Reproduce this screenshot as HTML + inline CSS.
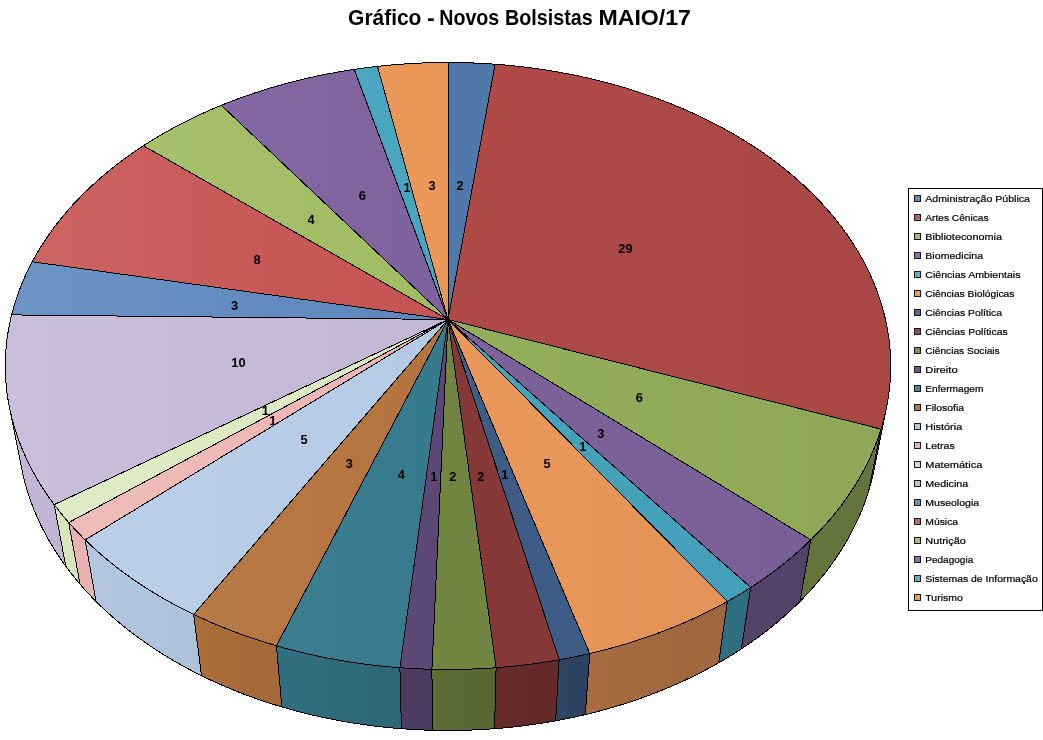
<!DOCTYPE html>
<html lang="pt"><head><meta charset="utf-8"><title>Gráfico - Novos Bolsistas MAIO/17</title>
<style>
html,body{margin:0;padding:0;background:#fff;}
body{width:1043px;height:740px;position:relative;overflow:hidden;font-family:"Liberation Sans",sans-serif;}
svg{display:block}
</style></head><body>
<svg width="1043" height="740" viewBox="0 0 1043 740" style="position:absolute;left:0;top:0">
<defs>
<linearGradient id="lt" gradientUnits="userSpaceOnUse" x1="5" y1="0" x2="890" y2="0">
<stop offset="0" stop-color="#fff" stop-opacity="0.11"/>
<stop offset="0.28" stop-color="#fff" stop-opacity="0.035"/>
<stop offset="0.5" stop-color="#fff" stop-opacity="0"/>
<stop offset="0.5" stop-color="#000" stop-opacity="0"/>
<stop offset="1" stop-color="#000" stop-opacity="0.04"/>
</linearGradient>
<linearGradient id="sd" gradientUnits="userSpaceOnUse" x1="0" y1="0" x2="900" y2="0">
<stop offset="0.0100" stop-color="#000" stop-opacity="0.000"/>
<stop offset="0.2178" stop-color="#000" stop-opacity="0.045"/>
<stop offset="0.3500" stop-color="#000" stop-opacity="0.110"/>
<stop offset="0.4478" stop-color="#000" stop-opacity="0.160"/>
<stop offset="0.5478" stop-color="#000" stop-opacity="0.230"/>
<stop offset="0.6456" stop-color="#000" stop-opacity="0.280"/>
<stop offset="0.7778" stop-color="#000" stop-opacity="0.320"/>
<stop offset="0.9344" stop-color="#000" stop-opacity="0.330"/>
<stop offset="0.9856" stop-color="#000" stop-opacity="0.330"/>
</linearGradient>
</defs>
<g stroke="#000" stroke-width="1" stroke-linejoin="round" shape-rendering="crispEdges">
<path d="M886.59 407.24 L885.67 411.62 L884.65 416.01 L883.53 420.39 L882.32 424.77 L881.01 429.15 L868.73 490.73 L870.02 486.35 L871.23 481.96 L872.34 477.58 L873.36 473.18 L874.28 468.79 Z" fill="#B04A47"/>
<path d="M881.01 429.15 L879.31 434.41 L877.47 439.65 L875.48 444.89 L873.36 450.12 L871.09 455.33 L868.68 460.53 L866.13 465.71 L863.44 470.86 L860.60 476.00 L857.62 481.12 L854.50 486.20 L851.23 491.27 L847.83 496.30 L844.28 501.30 L840.59 506.26 L836.76 511.19 L832.78 516.08 L828.67 520.94 L824.42 525.75 L820.02 530.51 L815.49 535.23 L810.82 539.90 L799.99 601.41 L804.54 596.75 L808.96 592.04 L813.25 587.29 L817.40 582.48 L821.42 577.64 L825.30 572.76 L829.04 567.83 L832.65 562.87 L836.12 557.88 L839.46 552.85 L842.65 547.79 L845.71 542.71 L848.63 537.60 L851.42 532.46 L854.06 527.30 L856.57 522.12 L858.94 516.93 L861.17 511.71 L863.26 506.49 L865.22 501.25 L867.04 495.99 L868.73 490.73 Z" fill="#93AE59"/>
<path d="M810.82 539.90 L806.02 544.52 L801.08 549.09 L796.00 553.60 L790.79 558.05 L785.45 562.45 L779.98 566.79 L774.37 571.06 L768.64 575.26 L762.78 579.40 L756.80 583.47 L750.70 587.47 L741.46 648.85 L747.40 644.86 L753.22 640.81 L758.91 636.68 L764.49 632.49 L769.94 628.23 L775.27 623.91 L780.47 619.52 L785.54 615.08 L790.49 610.58 L795.30 606.02 L799.99 601.41 Z" fill="#7C629B"/>
<path d="M750.70 587.47 L744.99 591.07 L739.19 594.61 L733.29 598.08 L727.29 601.48 L718.72 662.81 L724.54 659.42 L730.28 655.96 L735.92 652.43 L741.46 648.85 Z" fill="#46A3BD"/>
<path d="M727.29 601.48 L720.51 605.19 L713.61 608.80 L706.60 612.33 L699.48 615.78 L692.25 619.12 L684.92 622.38 L677.48 625.54 L669.95 628.60 L662.31 631.57 L654.58 634.43 L646.76 637.19 L638.86 639.85 L630.86 642.40 L622.79 644.84 L614.64 647.18 L606.41 649.40 L598.11 651.52 L589.75 653.52 L585.30 714.61 L593.40 712.62 L601.45 710.51 L609.42 708.30 L617.32 705.98 L625.15 703.54 L632.90 701.00 L640.57 698.36 L648.15 695.61 L655.65 692.76 L663.05 689.81 L670.37 686.77 L677.58 683.62 L684.70 680.38 L691.72 677.04 L698.63 673.62 L705.43 670.10 L712.13 666.50 L718.72 662.81 Z" fill="#E9975A"/>
<path d="M589.75 653.52 L582.16 655.23 L574.53 656.84 L566.85 658.36 L559.13 659.78 L555.63 720.84 L563.11 719.42 L570.55 717.91 L577.95 716.31 L585.30 714.61 Z" fill="#3E5D86"/>
<path d="M559.13 659.78 L551.36 661.11 L543.56 662.35 L535.72 663.48 L527.85 664.52 L519.95 665.46 L512.02 666.31 L504.07 667.06 L496.10 667.70 L494.58 728.71 L502.30 728.07 L510.00 727.33 L517.68 726.49 L525.33 725.55 L532.96 724.52 L540.55 723.39 L548.11 722.16 L555.63 720.84 Z" fill="#863837"/>
<path d="M496.10 667.70 L488.11 668.25 L480.11 668.70 L472.09 669.05 L464.07 669.30 L456.03 669.45 L448.00 669.50 L439.97 669.45 L431.93 669.30 L432.44 730.30 L440.22 730.45 L448.00 730.50 L455.78 730.45 L463.56 730.30 L471.33 730.05 L479.09 729.71 L486.84 729.26 L494.58 728.71 Z" fill="#6F8540"/>
<path d="M431.93 669.30 L423.91 669.05 L415.89 668.70 L407.89 668.25 L399.90 667.70 L401.42 728.71 L409.16 729.26 L416.91 729.71 L424.67 730.05 L432.44 730.30 Z" fill="#5B4876"/>
<path d="M399.90 667.70 L391.40 667.01 L382.92 666.20 L374.47 665.28 L366.05 664.25 L357.66 663.11 L349.32 661.86 L341.01 660.50 L332.75 659.03 L324.54 657.46 L316.38 655.78 L308.27 653.99 L300.22 652.09 L292.24 650.09 L284.32 647.99 L276.46 645.79 L281.83 706.92 L289.44 709.11 L297.12 711.20 L304.86 713.19 L312.66 715.07 L320.51 716.85 L328.42 718.53 L336.38 720.09 L344.38 721.55 L352.42 722.91 L360.51 724.15 L368.63 725.28 L376.79 726.31 L384.97 727.22 L393.18 728.02 L401.42 728.71 Z" fill="#367A8D"/>
<path d="M276.46 645.79 L268.50 643.43 L260.62 640.97 L252.82 638.41 L245.10 635.75 L237.47 632.98 L229.93 630.12 L222.48 627.17 L215.12 624.11 L207.87 620.97 L200.71 617.73 L193.66 614.41 L201.51 675.68 L208.35 679.00 L215.30 682.22 L222.34 685.35 L229.48 688.38 L236.70 691.33 L244.02 694.18 L251.42 696.93 L258.91 699.58 L266.47 702.13 L274.11 704.57 L281.83 706.92 Z" fill="#B4733D"/>
<path d="M193.66 614.41 L186.58 610.93 L179.62 607.37 L172.77 603.71 L166.04 599.98 L159.42 596.16 L152.93 592.25 L146.56 588.27 L140.32 584.22 L134.20 580.08 L128.22 575.88 L122.36 571.61 L116.64 567.26 L111.05 562.85 L105.60 558.38 L100.29 553.85 L95.11 549.26 L90.07 544.60 L85.18 539.90 L96.01 601.41 L100.78 606.11 L105.69 610.75 L110.73 615.33 L115.91 619.85 L121.22 624.31 L126.66 628.71 L132.23 633.04 L137.92 637.30 L143.74 641.49 L149.69 645.61 L155.76 649.65 L161.95 653.62 L168.26 657.50 L174.68 661.31 L181.22 665.03 L187.87 668.67 L194.64 672.22 L201.51 675.68 Z" fill="#B5CAE5"/>
<path d="M85.18 539.90 L80.89 535.62 L76.72 531.30 L72.67 526.94 L68.73 522.54 L79.97 584.09 L83.81 588.48 L87.77 592.83 L91.83 597.14 L96.01 601.41 Z" fill="#EDB5B3"/>
<path d="M68.73 522.54 L64.91 518.11 L61.21 513.64 L57.63 509.14 L54.17 504.61 L65.74 566.18 L69.13 570.71 L72.63 575.20 L76.24 579.66 L79.97 584.09 Z" fill="#DCE9BF"/>
<path d="M54.17 504.61 L50.56 499.68 L47.08 494.71 L43.75 489.72 L40.56 484.70 L37.51 479.65 L34.60 474.57 L31.82 469.47 L29.19 464.36 L26.70 459.22 L24.35 454.07 L22.13 448.90 L20.06 443.72 L18.13 438.53 L16.33 433.32 L14.67 428.11 L13.15 422.90 L11.77 417.68 L10.52 412.46 L9.41 407.24 L21.72 468.79 L22.83 474.02 L24.07 479.25 L25.45 484.48 L26.96 489.70 L28.60 494.91 L30.38 500.12 L32.29 505.31 L34.33 510.49 L36.51 515.66 L38.82 520.82 L41.27 525.95 L43.86 531.07 L46.58 536.17 L49.43 541.24 L52.42 546.29 L55.55 551.31 L58.81 556.30 L62.21 561.26 L65.74 566.18 Z" fill="#C4B7D6"/>
</g>
<path d="M886.59 407.24 L885.44 412.62 L884.15 418.01 L882.71 423.40 L881.13 428.78 L879.39 434.15 L877.52 439.52 L875.49 444.87 L873.32 450.22 L870.99 455.54 L868.52 460.86 L865.90 466.15 L863.13 471.42 L860.22 476.67 L857.15 481.90 L853.93 487.10 L850.57 492.27 L847.06 497.40 L843.39 502.51 L839.58 507.58 L835.63 512.61 L831.52 517.59 L827.27 522.54 L822.87 527.44 L818.33 532.30 L813.64 537.11 L808.81 541.86 L803.83 546.56 L798.72 551.20 L793.46 555.79 L788.07 560.31 L782.54 564.78 L776.87 569.17 L771.06 573.50 L765.13 577.76 L759.06 581.95 L752.86 586.07 L746.54 590.10 L740.09 594.06 L733.52 597.94 L726.82 601.74 L720.01 605.45 L713.08 609.08 L706.03 612.62 L698.88 616.06 L691.61 619.42 L684.24 622.67 L676.76 625.84 L669.19 628.90 L661.52 631.87 L653.75 634.73 L645.89 637.49 L637.94 640.15 L629.91 642.69 L621.79 645.14 L613.60 647.47 L605.33 649.69 L596.99 651.80 L588.58 653.79 L580.11 655.67 L571.58 657.43 L562.99 659.08 L554.35 660.61 L545.66 662.02 L536.93 663.31 L528.15 664.48 L519.34 665.53 L510.50 666.46 L501.62 667.27 L492.72 667.95 L483.80 668.51 L474.87 668.94 L465.92 669.25 L456.96 669.44 L448.00 669.50 L439.04 669.44 L430.08 669.25 L421.13 668.94 L412.20 668.51 L403.28 667.95 L394.38 667.27 L385.50 666.46 L376.66 665.53 L367.85 664.48 L359.07 663.31 L350.34 662.02 L341.65 660.61 L333.01 659.08 L324.42 657.43 L315.89 655.67 L307.42 653.79 L299.01 651.80 L290.67 649.69 L282.40 647.47 L274.21 645.14 L266.09 642.69 L258.06 640.15 L250.11 637.49 L242.25 634.73 L234.48 631.87 L226.81 628.90 L219.24 625.84 L211.76 622.67 L204.39 619.42 L197.12 616.06 L189.97 612.62 L182.92 609.08 L175.99 605.45 L169.18 601.74 L162.48 597.94 L155.91 594.06 L149.46 590.10 L143.14 586.07 L136.94 581.95 L130.87 577.76 L124.94 573.50 L119.13 569.17 L113.46 564.78 L107.93 560.31 L102.54 555.79 L97.28 551.20 L92.17 546.56 L87.19 541.86 L82.36 537.11 L77.67 532.30 L73.13 527.44 L68.73 522.54 L64.48 517.59 L60.37 512.61 L56.42 507.58 L52.61 502.51 L48.94 497.40 L45.43 492.27 L42.07 487.10 L38.85 481.90 L35.78 476.67 L32.87 471.42 L30.10 466.15 L27.48 460.86 L25.01 455.54 L22.68 450.22 L20.51 444.87 L18.48 439.52 L16.61 434.15 L14.87 428.78 L13.29 423.40 L11.85 418.01 L10.56 412.62 L9.41 407.24 L21.72 468.79 L22.87 474.19 L24.16 479.58 L25.59 484.97 L27.16 490.36 L28.87 495.74 L30.73 501.11 L32.73 506.47 L34.87 511.81 L37.16 517.14 L39.59 522.45 L42.16 527.75 L44.88 533.02 L47.74 538.27 L50.75 543.49 L53.90 548.69 L57.19 553.85 L60.63 558.98 L64.21 564.08 L67.94 569.14 L71.81 574.17 L75.82 579.15 L79.97 584.09 L84.26 588.98 L88.69 593.83 L93.27 598.62 L97.98 603.37 L102.82 608.06 L107.81 612.69 L112.93 617.26 L118.18 621.78 L123.57 626.23 L129.08 630.61 L134.73 634.93 L140.50 639.17 L146.40 643.35 L152.43 647.45 L158.58 651.47 L164.84 655.42 L171.23 659.28 L177.74 663.07 L184.35 666.76 L191.08 670.38 L197.92 673.90 L204.87 677.33 L211.92 680.67 L219.08 683.91 L226.33 687.06 L233.68 690.11 L241.12 693.06 L248.66 695.91 L256.28 698.66 L263.99 701.30 L271.78 703.84 L279.64 706.27 L287.59 708.59 L295.60 710.80 L303.68 712.89 L311.83 714.88 L320.04 716.75 L328.30 718.50 L336.62 720.14 L345.00 721.66 L353.41 723.06 L361.87 724.35 L370.37 725.51 L378.91 726.56 L387.48 727.48 L396.07 728.28 L404.69 728.96 L413.33 729.51 L421.98 729.94 L430.65 730.25 L439.32 730.44 L448.00 730.50 L456.68 730.44 L465.35 730.25 L474.02 729.94 L482.67 729.51 L491.31 728.96 L499.93 728.28 L508.52 727.48 L517.09 726.56 L525.63 725.51 L534.13 724.35 L542.59 723.06 L551.00 721.66 L559.38 720.14 L567.70 718.50 L575.96 716.75 L584.17 714.88 L592.32 712.89 L600.40 710.80 L608.41 708.59 L616.36 706.27 L624.22 703.84 L632.01 701.30 L639.72 698.66 L647.34 695.91 L654.88 693.06 L662.32 690.11 L669.67 687.06 L676.92 683.91 L684.08 680.67 L691.13 677.33 L698.08 673.90 L704.92 670.38 L711.65 666.76 L718.26 663.07 L724.77 659.28 L731.16 655.42 L737.42 651.47 L743.57 647.45 L749.60 643.35 L755.50 639.17 L761.27 634.93 L766.92 630.61 L772.43 626.23 L777.82 621.78 L783.07 617.26 L788.19 612.69 L793.18 608.06 L798.02 603.37 L802.73 598.62 L807.31 593.83 L811.74 588.98 L816.03 584.09 L820.18 579.15 L824.19 574.17 L828.06 569.14 L831.79 564.08 L835.37 558.98 L838.81 553.85 L842.10 548.69 L845.25 543.49 L848.26 538.27 L851.12 533.02 L853.84 527.75 L856.41 522.45 L858.84 517.14 L861.13 511.81 L863.27 506.47 L865.27 501.11 L867.13 495.74 L868.84 490.36 L870.41 484.97 L871.84 479.58 L873.13 474.19 L874.28 468.79 Z" fill="url(#sd)" stroke="none" shape-rendering="crispEdges"/>
<g stroke="none" shape-rendering="crispEdges">
<path d="M448.00 319.50 L448.00 62.50 L453.90 62.53 L459.80 62.61 L465.70 62.74 L471.59 62.93 L477.48 63.17 L483.37 63.47 L489.25 63.82 L495.13 64.22 Z" fill="#5079AB"/>
<path d="M448.00 319.50 L495.13 64.22 L501.67 64.74 L508.21 65.32 L514.73 65.97 L521.24 66.68 L527.74 67.46 L534.23 68.31 L540.70 69.23 L547.15 70.21 L553.58 71.26 L560.00 72.37 L566.39 73.55 L572.76 74.80 L579.11 76.12 L585.43 77.50 L591.73 78.94 L598.00 80.45 L604.25 82.03 L610.46 83.68 L616.64 85.38 L622.79 87.16 L628.91 89.00 L635.00 90.90 L641.04 92.88 L647.05 94.91 L653.03 97.01 L658.96 99.17 L664.85 101.40 L670.70 103.70 L676.50 106.05 L682.26 108.48 L687.98 110.96 L693.64 113.51 L699.26 116.12 L704.82 118.79 L710.34 121.53 L715.80 124.33 L721.20 127.19 L726.55 130.11 L731.84 133.09 L737.08 136.14 L742.25 139.24 L747.36 142.41 L752.41 145.64 L757.39 148.92 L762.30 152.27 L767.15 155.67 L771.93 159.13 L776.64 162.65 L781.28 166.23 L785.84 169.87 L790.33 173.56 L794.74 177.30 L799.07 181.11 L803.32 184.96 L807.49 188.88 L811.58 192.84 L815.58 196.86 L819.50 200.94 L823.33 205.06 L827.07 209.24 L830.72 213.46 L834.28 217.74 L837.75 222.06 L841.12 226.44 L844.39 230.86 L847.56 235.33 L850.64 239.84 L853.61 244.40 L856.48 249.00 L859.25 253.65 L861.91 258.34 L864.46 263.07 L866.91 267.84 L869.24 272.65 L871.46 277.50 L873.57 282.39 L875.56 287.31 L877.44 292.27 L879.20 297.27 L880.84 302.29 L882.35 307.35 L883.75 312.44 L885.02 317.55 L886.17 322.70 L887.19 327.87 L888.09 333.06 L888.85 338.28 L889.48 343.53 L889.99 348.79 L890.36 354.07 L890.59 359.37 L890.70 364.69 L890.66 370.02 L890.49 375.36 L890.18 380.72 L889.73 386.08 L889.14 391.46 L888.41 396.84 L887.54 402.22 L886.52 407.61 L885.36 413.00 L884.06 418.39 L882.61 423.77 L881.01 429.15 Z" fill="#B04A47"/>
<path d="M448.00 319.50 L881.01 429.15 L879.31 434.41 L877.47 439.65 L875.48 444.89 L873.36 450.12 L871.09 455.33 L868.68 460.53 L866.13 465.71 L863.44 470.86 L860.60 476.00 L857.62 481.12 L854.50 486.20 L851.23 491.27 L847.83 496.30 L844.28 501.30 L840.59 506.26 L836.76 511.19 L832.78 516.08 L828.67 520.94 L824.42 525.75 L820.02 530.51 L815.49 535.23 L810.82 539.90 Z" fill="#93AE59"/>
<path d="M448.00 319.50 L810.82 539.90 L806.02 544.52 L801.08 549.09 L796.00 553.60 L790.79 558.05 L785.45 562.45 L779.98 566.79 L774.37 571.06 L768.64 575.26 L762.78 579.40 L756.80 583.47 L750.70 587.47 Z" fill="#7C629B"/>
<path d="M448.00 319.50 L750.70 587.47 L744.99 591.07 L739.19 594.61 L733.29 598.08 L727.29 601.48 Z" fill="#46A3BD"/>
<path d="M448.00 319.50 L727.29 601.48 L720.51 605.19 L713.61 608.80 L706.60 612.33 L699.48 615.78 L692.25 619.12 L684.92 622.38 L677.48 625.54 L669.95 628.60 L662.31 631.57 L654.58 634.43 L646.76 637.19 L638.86 639.85 L630.86 642.40 L622.79 644.84 L614.64 647.18 L606.41 649.40 L598.11 651.52 L589.75 653.52 Z" fill="#E9975A"/>
<path d="M448.00 319.50 L589.75 653.52 L582.16 655.23 L574.53 656.84 L566.85 658.36 L559.13 659.78 Z" fill="#3E5D86"/>
<path d="M448.00 319.50 L559.13 659.78 L551.36 661.11 L543.56 662.35 L535.72 663.48 L527.85 664.52 L519.95 665.46 L512.02 666.31 L504.07 667.06 L496.10 667.70 Z" fill="#863837"/>
<path d="M448.00 319.50 L496.10 667.70 L488.11 668.25 L480.11 668.70 L472.09 669.05 L464.07 669.30 L456.03 669.45 L448.00 669.50 L439.97 669.45 L431.93 669.30 Z" fill="#6F8540"/>
<path d="M448.00 319.50 L431.93 669.30 L423.91 669.05 L415.89 668.70 L407.89 668.25 L399.90 667.70 Z" fill="#5B4876"/>
<path d="M448.00 319.50 L399.90 667.70 L391.40 667.01 L382.92 666.20 L374.47 665.28 L366.05 664.25 L357.66 663.11 L349.32 661.86 L341.01 660.50 L332.75 659.03 L324.54 657.46 L316.38 655.78 L308.27 653.99 L300.22 652.09 L292.24 650.09 L284.32 647.99 L276.46 645.79 Z" fill="#367A8D"/>
<path d="M448.00 319.50 L276.46 645.79 L268.50 643.43 L260.62 640.97 L252.82 638.41 L245.10 635.75 L237.47 632.98 L229.93 630.12 L222.48 627.17 L215.12 624.11 L207.87 620.97 L200.71 617.73 L193.66 614.41 Z" fill="#B4733D"/>
<path d="M448.00 319.50 L193.66 614.41 L186.58 610.93 L179.62 607.37 L172.77 603.71 L166.04 599.98 L159.42 596.16 L152.93 592.25 L146.56 588.27 L140.32 584.22 L134.20 580.08 L128.22 575.88 L122.36 571.61 L116.64 567.26 L111.05 562.85 L105.60 558.38 L100.29 553.85 L95.11 549.26 L90.07 544.60 L85.18 539.90 Z" fill="#B5CAE5"/>
<path d="M448.00 319.50 L85.18 539.90 L80.89 535.62 L76.72 531.30 L72.67 526.94 L68.73 522.54 Z" fill="#EDB5B3"/>
<path d="M448.00 319.50 L68.73 522.54 L64.91 518.11 L61.21 513.64 L57.63 509.14 L54.17 504.61 Z" fill="#DCE9BF"/>
<path d="M448.00 319.50 L54.17 504.61 L50.46 499.54 L46.89 494.44 L43.48 489.30 L40.21 484.13 L37.09 478.94 L34.12 473.72 L31.30 468.48 L28.62 463.21 L26.10 457.93 L23.72 452.63 L21.48 447.31 L19.40 441.98 L17.46 436.64 L15.67 431.29 L14.02 425.94 L12.52 420.57 L11.16 415.21 L9.94 409.84 L8.87 404.47 L7.94 399.11 L7.15 393.75 L6.51 388.39 L6.00 383.04 L5.63 377.70 L5.40 372.37 L5.30 367.05 L5.34 361.75 L5.52 356.46 L5.83 351.19 L6.27 345.94 L6.84 340.71 L7.54 335.50 L8.37 330.31 L9.33 325.15 L10.41 320.01 L11.62 314.90 Z" fill="#C4B7D6"/>
<path d="M448.00 319.50 L11.62 314.90 L12.93 309.91 L14.35 304.95 L15.89 300.02 L17.54 295.12 L19.31 290.25 L21.19 285.41 L23.18 280.61 L25.28 275.84 L27.49 271.11 L29.81 266.42 L32.23 261.76 Z" fill="#5C87BE"/>
<path d="M448.00 319.50 L32.23 261.76 L34.78 257.09 L37.44 252.46 L40.21 247.88 L43.07 243.33 L46.04 238.83 L49.10 234.38 L52.26 229.97 L55.52 225.60 L58.87 221.28 L62.31 217.01 L65.85 212.79 L69.47 208.62 L73.19 204.49 L76.99 200.42 L80.87 196.40 L84.85 192.43 L88.90 188.51 L93.03 184.64 L97.24 180.83 L101.53 177.07 L105.90 173.37 L110.34 169.72 L114.86 166.12 L119.45 162.59 L124.11 159.10 L128.84 155.68 L133.63 152.31 L138.49 149.00 L143.42 145.75 Z" fill="#C65351"/>
<path d="M448.00 319.50 L143.42 145.75 L148.24 142.66 L153.12 139.63 L158.06 136.65 L163.06 133.73 L168.10 130.86 L173.20 128.05 L178.36 125.29 L183.56 122.60 L188.81 119.95 L194.11 117.37 L199.46 114.84 L204.85 112.38 L210.29 109.96 L215.77 107.61 L221.29 105.32 Z" fill="#A0BC61"/>
<path d="M448.00 319.50 L221.29 105.32 L226.98 103.03 L232.72 100.80 L238.49 98.64 L244.30 96.54 L250.15 94.50 L256.03 92.52 L261.95 90.60 L267.91 88.75 L273.90 86.96 L279.92 85.23 L285.97 83.56 L292.05 81.96 L298.15 80.41 L304.29 78.94 L310.45 77.52 L316.63 76.17 L322.84 74.88 L329.07 73.66 L335.32 72.50 L341.59 71.40 L347.88 70.36 L354.19 69.39 Z" fill="#7E629F"/>
<path d="M448.00 319.50 L354.19 69.39 L359.99 68.56 L365.80 67.78 L371.62 67.05 L377.45 66.38 Z" fill="#48A5BF"/>
<path d="M448.00 319.50 L377.45 66.38 L383.82 65.71 L390.21 65.10 L396.61 64.55 L403.01 64.07 L409.42 63.65 L415.84 63.30 L422.27 63.01 L428.70 62.79 L435.13 62.63 L441.56 62.53 L448.00 62.50 Z" fill="#EA9757"/>
</g>
<path d="M448.00 62.50 L454.60 62.53 L461.20 62.64 L467.80 62.80 L474.40 63.04 L480.99 63.34 L487.57 63.71 L494.15 64.15 L500.72 64.66 L507.28 65.23 L513.83 65.87 L520.36 66.58 L526.88 67.36 L533.39 68.20 L539.88 69.11 L546.36 70.09 L552.82 71.13 L559.26 72.24 L565.67 73.42 L572.07 74.66 L578.44 75.97 L584.79 77.35 L591.11 78.80 L597.41 80.31 L603.67 81.88 L609.91 83.53 L616.12 85.24 L622.29 87.01 L628.43 88.85 L634.54 90.76 L640.61 92.73 L646.64 94.77 L652.64 96.87 L658.59 99.04 L664.50 101.27 L670.38 103.57 L676.20 105.93 L681.98 108.36 L687.72 110.85 L693.40 113.40 L699.04 116.02 L704.63 118.70 L710.16 121.44 L715.64 124.25 L721.07 127.11 L726.44 130.05 L731.75 133.04 L737.00 136.09 L742.19 139.21 L747.32 142.38 L752.38 145.62 L757.38 148.92 L762.31 152.27 L767.18 155.69 L771.97 159.16 L776.69 162.69 L781.34 166.28 L785.92 169.93 L790.42 173.64 L794.84 177.40 L799.19 181.21 L803.45 185.09 L807.63 189.01 L811.73 193.00 L815.75 197.03 L819.67 201.12 L823.51 205.26 L827.26 209.45 L830.92 213.69 L834.49 217.99 L837.96 222.33 L841.33 226.72 L844.61 231.16 L847.79 235.65 L850.87 240.18 L853.84 244.76 L856.71 249.38 L859.48 254.05 L862.14 258.76 L864.69 263.51 L867.13 268.30 L869.46 273.13 L871.68 278.00 L873.78 282.91 L875.77 287.85 L877.64 292.83 L879.39 297.84 L881.02 302.89 L882.53 307.97 L883.92 313.07 L885.18 318.21 L886.31 323.38 L887.32 328.57 L888.20 333.78 L888.95 339.03 L889.57 344.29 L890.05 349.57 L890.40 354.87 L890.62 360.19 L890.70 365.53 L890.64 370.88 L890.45 376.25 L890.11 381.62 L889.64 387.01 L889.02 392.40 L888.26 397.80 L887.36 403.20 L886.32 408.61 L885.12 414.01 L883.79 419.42 L882.31 424.82 L880.68 430.22 L878.90 435.61 L876.97 440.99 L874.90 446.36 L872.68 451.72 L870.30 457.06 L867.78 462.38 L865.11 467.69 L862.29 472.97 L859.32 478.23 L856.20 483.47 L852.92 488.68 L849.50 493.85 L845.93 499.00 L842.21 504.11 L838.34 509.18 L834.32 514.21 L830.16 519.21 L825.84 524.16 L821.38 529.06 L816.77 533.91 L812.02 538.72 L807.13 543.47 L802.09 548.17 L796.90 552.81 L791.58 557.39 L786.12 561.91 L780.52 566.36 L774.79 570.75 L768.91 575.07 L762.91 579.31 L756.77 583.49 L750.51 587.59 L744.12 591.61 L737.60 595.55 L730.95 599.41 L724.19 603.19 L717.31 606.88 L710.31 610.49 L703.20 614.00 L695.97 617.42 L688.64 620.75 L681.20 623.98 L673.66 627.11 L666.02 630.14 L658.28 633.08 L650.44 635.91 L642.52 638.63 L634.51 641.25 L626.41 643.76 L618.24 646.16 L609.98 648.45 L601.66 650.63 L593.26 652.70 L584.79 654.65 L576.27 656.48 L567.68 658.20 L559.04 659.80 L550.35 661.28 L541.61 662.64 L532.82 663.88 L524.00 664.99 L515.14 665.99 L506.26 666.86 L497.34 667.61 L488.40 668.23 L479.44 668.73 L470.47 669.11 L461.49 669.36 L452.50 669.48 L443.50 669.48 L434.51 669.36 L425.53 669.11 L416.56 668.73 L407.60 668.23 L398.66 667.61 L389.74 666.86 L380.86 665.99 L372.00 664.99 L363.18 663.88 L354.39 662.64 L345.65 661.28 L336.96 659.80 L328.32 658.20 L319.73 656.48 L311.21 654.65 L302.74 652.70 L294.34 650.63 L286.02 648.45 L277.76 646.16 L269.59 643.76 L261.49 641.25 L253.48 638.63 L245.56 635.91 L237.72 633.08 L229.98 630.14 L222.34 627.11 L214.80 623.98 L207.36 620.75 L200.03 617.42 L192.80 614.00 L185.69 610.49 L178.69 606.88 L171.81 603.19 L165.05 599.41 L158.40 595.55 L151.88 591.61 L145.49 587.59 L139.23 583.49 L133.09 579.31 L127.09 575.07 L121.21 570.75 L115.48 566.36 L109.88 561.91 L104.42 557.39 L99.10 552.81 L93.91 548.17 L88.87 543.47 L83.98 538.72 L79.23 533.91 L74.62 529.06 L70.16 524.16 L65.84 519.21 L61.68 514.21 L57.66 509.18 L53.79 504.11 L50.07 499.00 L46.50 493.85 L43.08 488.68 L39.80 483.47 L36.68 478.23 L33.71 472.97 L30.89 467.69 L28.22 462.38 L25.70 457.06 L23.32 451.72 L21.10 446.36 L19.03 440.99 L17.10 435.61 L15.32 430.22 L13.69 424.82 L12.21 419.42 L10.88 414.01 L9.68 408.61 L8.64 403.20 L7.74 397.80 L6.98 392.40 L6.36 387.01 L5.89 381.62 L5.55 376.25 L5.36 370.88 L5.30 365.53 L5.38 360.19 L5.60 354.87 L5.95 349.57 L6.43 344.29 L7.05 339.03 L7.80 333.78 L8.68 328.57 L9.69 323.38 L10.82 318.21 L12.08 313.07 L13.47 307.97 L14.98 302.89 L16.61 297.84 L18.36 292.83 L20.23 287.85 L22.22 282.91 L24.32 278.00 L26.54 273.13 L28.87 268.30 L31.31 263.51 L33.86 258.76 L36.52 254.05 L39.29 249.38 L42.16 244.76 L45.13 240.18 L48.21 235.65 L51.39 231.16 L54.67 226.72 L58.04 222.33 L61.51 217.99 L65.08 213.69 L68.74 209.45 L72.49 205.26 L76.33 201.12 L80.25 197.03 L84.27 193.00 L88.37 189.01 L92.55 185.09 L96.81 181.21 L101.16 177.40 L105.58 173.64 L110.08 169.93 L114.66 166.28 L119.31 162.69 L124.03 159.16 L128.82 155.69 L133.69 152.27 L138.62 148.92 L143.62 145.62 L148.68 142.38 L153.81 139.21 L159.00 136.09 L164.25 133.04 L169.56 130.05 L174.93 127.11 L180.36 124.25 L185.84 121.44 L191.37 118.70 L196.96 116.02 L202.60 113.40 L208.28 110.85 L214.02 108.36 L219.80 105.93 L225.62 103.57 L231.50 101.27 L237.41 99.04 L243.36 96.87 L249.36 94.77 L255.39 92.73 L261.46 90.76 L267.57 88.85 L273.71 87.01 L279.88 85.24 L286.09 83.53 L292.33 81.88 L298.59 80.31 L304.89 78.80 L311.21 77.35 L317.56 75.97 L323.93 74.66 L330.33 73.42 L336.74 72.24 L343.18 71.13 L349.64 70.09 L356.12 69.11 L362.61 68.20 L369.12 67.36 L375.64 66.58 L382.17 65.87 L388.72 65.23 L395.28 64.66 L401.85 64.15 L408.43 63.71 L415.01 63.34 L421.60 63.04 L428.20 62.80 L434.80 62.64 L441.40 62.53 L448.00 62.50 Z" fill="url(#lt)" stroke="none" shape-rendering="crispEdges"/>
<g stroke="#000" stroke-width="1" fill="none" stroke-linejoin="round" shape-rendering="crispEdges">
<path d="M448.00 319.50 L448.00 62.50"/>
<path d="M448.00 319.50 L495.13 64.22"/>
<path d="M448.00 319.50 L881.01 429.15"/>
<path d="M448.00 319.50 L810.82 539.90"/>
<path d="M448.00 319.50 L750.70 587.47"/>
<path d="M448.00 319.50 L727.29 601.48"/>
<path d="M448.00 319.50 L589.75 653.52"/>
<path d="M448.00 319.50 L559.13 659.78"/>
<path d="M448.00 319.50 L496.10 667.70"/>
<path d="M448.00 319.50 L431.93 669.30"/>
<path d="M448.00 319.50 L399.90 667.70"/>
<path d="M448.00 319.50 L276.46 645.79"/>
<path d="M448.00 319.50 L193.66 614.41"/>
<path d="M448.00 319.50 L85.18 539.90"/>
<path d="M448.00 319.50 L68.73 522.54"/>
<path d="M448.00 319.50 L54.17 504.61"/>
<path d="M448.00 319.50 L11.62 314.90"/>
<path d="M448.00 319.50 L32.23 261.76"/>
<path d="M448.00 319.50 L143.42 145.75"/>
<path d="M448.00 319.50 L221.29 105.32"/>
<path d="M448.00 319.50 L354.19 69.39"/>
<path d="M448.00 319.50 L377.45 66.38"/>
<path d="M448.00 62.50 L454.60 62.53 L461.20 62.64 L467.80 62.80 L474.40 63.04 L480.99 63.34 L487.57 63.71 L494.15 64.15 L500.72 64.66 L507.28 65.23 L513.83 65.87 L520.36 66.58 L526.88 67.36 L533.39 68.20 L539.88 69.11 L546.36 70.09 L552.82 71.13 L559.26 72.24 L565.67 73.42 L572.07 74.66 L578.44 75.97 L584.79 77.35 L591.11 78.80 L597.41 80.31 L603.67 81.88 L609.91 83.53 L616.12 85.24 L622.29 87.01 L628.43 88.85 L634.54 90.76 L640.61 92.73 L646.64 94.77 L652.64 96.87 L658.59 99.04 L664.50 101.27 L670.38 103.57 L676.20 105.93 L681.98 108.36 L687.72 110.85 L693.40 113.40 L699.04 116.02 L704.63 118.70 L710.16 121.44 L715.64 124.25 L721.07 127.11 L726.44 130.05 L731.75 133.04 L737.00 136.09 L742.19 139.21 L747.32 142.38 L752.38 145.62 L757.38 148.92 L762.31 152.27 L767.18 155.69 L771.97 159.16 L776.69 162.69 L781.34 166.28 L785.92 169.93 L790.42 173.64 L794.84 177.40 L799.19 181.21 L803.45 185.09 L807.63 189.01 L811.73 193.00 L815.75 197.03 L819.67 201.12 L823.51 205.26 L827.26 209.45 L830.92 213.69 L834.49 217.99 L837.96 222.33 L841.33 226.72 L844.61 231.16 L847.79 235.65 L850.87 240.18 L853.84 244.76 L856.71 249.38 L859.48 254.05 L862.14 258.76 L864.69 263.51 L867.13 268.30 L869.46 273.13 L871.68 278.00 L873.78 282.91 L875.77 287.85 L877.64 292.83 L879.39 297.84 L881.02 302.89 L882.53 307.97 L883.92 313.07 L885.18 318.21 L886.31 323.38 L887.32 328.57 L888.20 333.78 L888.95 339.03 L889.57 344.29 L890.05 349.57 L890.40 354.87 L890.62 360.19 L890.70 365.53 L890.64 370.88 L890.45 376.25 L890.11 381.62 L889.64 387.01 L889.02 392.40 L888.26 397.80 L887.36 403.20 L886.32 408.61 L885.12 414.01 L883.79 419.42 L882.31 424.82 L880.68 430.22 L878.90 435.61 L876.97 440.99 L874.90 446.36 L872.68 451.72 L870.30 457.06 L867.78 462.38 L865.11 467.69 L862.29 472.97 L859.32 478.23 L856.20 483.47 L852.92 488.68 L849.50 493.85 L845.93 499.00 L842.21 504.11 L838.34 509.18 L834.32 514.21 L830.16 519.21 L825.84 524.16 L821.38 529.06 L816.77 533.91 L812.02 538.72 L807.13 543.47 L802.09 548.17 L796.90 552.81 L791.58 557.39 L786.12 561.91 L780.52 566.36 L774.79 570.75 L768.91 575.07 L762.91 579.31 L756.77 583.49 L750.51 587.59 L744.12 591.61 L737.60 595.55 L730.95 599.41 L724.19 603.19 L717.31 606.88 L710.31 610.49 L703.20 614.00 L695.97 617.42 L688.64 620.75 L681.20 623.98 L673.66 627.11 L666.02 630.14 L658.28 633.08 L650.44 635.91 L642.52 638.63 L634.51 641.25 L626.41 643.76 L618.24 646.16 L609.98 648.45 L601.66 650.63 L593.26 652.70 L584.79 654.65 L576.27 656.48 L567.68 658.20 L559.04 659.80 L550.35 661.28 L541.61 662.64 L532.82 663.88 L524.00 664.99 L515.14 665.99 L506.26 666.86 L497.34 667.61 L488.40 668.23 L479.44 668.73 L470.47 669.11 L461.49 669.36 L452.50 669.48 L443.50 669.48 L434.51 669.36 L425.53 669.11 L416.56 668.73 L407.60 668.23 L398.66 667.61 L389.74 666.86 L380.86 665.99 L372.00 664.99 L363.18 663.88 L354.39 662.64 L345.65 661.28 L336.96 659.80 L328.32 658.20 L319.73 656.48 L311.21 654.65 L302.74 652.70 L294.34 650.63 L286.02 648.45 L277.76 646.16 L269.59 643.76 L261.49 641.25 L253.48 638.63 L245.56 635.91 L237.72 633.08 L229.98 630.14 L222.34 627.11 L214.80 623.98 L207.36 620.75 L200.03 617.42 L192.80 614.00 L185.69 610.49 L178.69 606.88 L171.81 603.19 L165.05 599.41 L158.40 595.55 L151.88 591.61 L145.49 587.59 L139.23 583.49 L133.09 579.31 L127.09 575.07 L121.21 570.75 L115.48 566.36 L109.88 561.91 L104.42 557.39 L99.10 552.81 L93.91 548.17 L88.87 543.47 L83.98 538.72 L79.23 533.91 L74.62 529.06 L70.16 524.16 L65.84 519.21 L61.68 514.21 L57.66 509.18 L53.79 504.11 L50.07 499.00 L46.50 493.85 L43.08 488.68 L39.80 483.47 L36.68 478.23 L33.71 472.97 L30.89 467.69 L28.22 462.38 L25.70 457.06 L23.32 451.72 L21.10 446.36 L19.03 440.99 L17.10 435.61 L15.32 430.22 L13.69 424.82 L12.21 419.42 L10.88 414.01 L9.68 408.61 L8.64 403.20 L7.74 397.80 L6.98 392.40 L6.36 387.01 L5.89 381.62 L5.55 376.25 L5.36 370.88 L5.30 365.53 L5.38 360.19 L5.60 354.87 L5.95 349.57 L6.43 344.29 L7.05 339.03 L7.80 333.78 L8.68 328.57 L9.69 323.38 L10.82 318.21 L12.08 313.07 L13.47 307.97 L14.98 302.89 L16.61 297.84 L18.36 292.83 L20.23 287.85 L22.22 282.91 L24.32 278.00 L26.54 273.13 L28.87 268.30 L31.31 263.51 L33.86 258.76 L36.52 254.05 L39.29 249.38 L42.16 244.76 L45.13 240.18 L48.21 235.65 L51.39 231.16 L54.67 226.72 L58.04 222.33 L61.51 217.99 L65.08 213.69 L68.74 209.45 L72.49 205.26 L76.33 201.12 L80.25 197.03 L84.27 193.00 L88.37 189.01 L92.55 185.09 L96.81 181.21 L101.16 177.40 L105.58 173.64 L110.08 169.93 L114.66 166.28 L119.31 162.69 L124.03 159.16 L128.82 155.69 L133.69 152.27 L138.62 148.92 L143.62 145.62 L148.68 142.38 L153.81 139.21 L159.00 136.09 L164.25 133.04 L169.56 130.05 L174.93 127.11 L180.36 124.25 L185.84 121.44 L191.37 118.70 L196.96 116.02 L202.60 113.40 L208.28 110.85 L214.02 108.36 L219.80 105.93 L225.62 103.57 L231.50 101.27 L237.41 99.04 L243.36 96.87 L249.36 94.77 L255.39 92.73 L261.46 90.76 L267.57 88.85 L273.71 87.01 L279.88 85.24 L286.09 83.53 L292.33 81.88 L298.59 80.31 L304.89 78.80 L311.21 77.35 L317.56 75.97 L323.93 74.66 L330.33 73.42 L336.74 72.24 L343.18 71.13 L349.64 70.09 L356.12 69.11 L362.61 68.20 L369.12 67.36 L375.64 66.58 L382.17 65.87 L388.72 65.23 L395.28 64.66 L401.85 64.15 L408.43 63.71 L415.01 63.34 L421.60 63.04 L428.20 62.80 L434.80 62.64 L441.40 62.53 L448.00 62.50 Z"/>
</g>
<g font-family="'Liberation Sans', sans-serif" font-weight="bold" font-size="12.8" text-anchor="middle" fill="#000">
<text x="460.1" y="189.6">2</text>
<text x="625.4" y="252.8">29</text>
<text x="639.4" y="401.7">6</text>
<text x="600.8" y="437.7">3</text>
<text x="582.9" y="451.4">1</text>
<text x="547.0" y="468.3">5</text>
<text x="504.9" y="478.7">1</text>
<text x="480.8" y="481.4">2</text>
<text x="452.9" y="481.4">2</text>
<text x="433.8" y="481.4">1</text>
<text x="401.2" y="478.7">4</text>
<text x="349.3" y="468.2">3</text>
<text x="304.0" y="444.2">5</text>
<text x="272.9" y="424.7">1</text>
<text x="265.3" y="414.8">1</text>
<text x="238.4" y="366.9">10</text>
<text x="234.5" y="309.7">3</text>
<text x="257.1" y="264.3">8</text>
<text x="311.1" y="223.6">4</text>
<text x="362.2" y="199.5">6</text>
<text x="407.1" y="191.6">1</text>
<text x="432.0" y="189.6">3</text>
</g>
<g font-family="'Liberation Sans', sans-serif" font-weight="bold" font-size="21.6" fill="#000">
<text x="348.10" y="25.3" textLength="73.30" lengthAdjust="spacingAndGlyphs">Gráfico</text>
<text x="427.00" y="25.3" textLength="7.80" lengthAdjust="spacingAndGlyphs">-</text>
<text x="439.20" y="25.3" textLength="60.10" lengthAdjust="spacingAndGlyphs">Novos</text>
<text x="505.10" y="25.3" textLength="87.60" lengthAdjust="spacingAndGlyphs">Bolsistas</text>
<text x="598.40" y="25.3" textLength="92.60" lengthAdjust="spacingAndGlyphs">MAIO/17</text>
</g>
<rect x="908.5" y="188.5" width="134.0" height="422.0" fill="#fff" stroke="#000" stroke-width="1"/>
<g font-family="'Liberation Sans', sans-serif" font-size="9.2" fill="#000" stroke="#000" stroke-width="0.2">
<rect x="914.5" y="195.5" width="6" height="6" fill="#618ABB" stroke="#1a1a1a" stroke-width="1"/>
<text x="925.30" y="202.1" textLength="104.70" lengthAdjust="spacingAndGlyphs">Administração Pública</text>
<rect x="914.5" y="214.5" width="6" height="6" fill="#BE6260" stroke="#1a1a1a" stroke-width="1"/>
<text x="925.30" y="221.1" textLength="63.20" lengthAdjust="spacingAndGlyphs">Artes Cênicas</text>
<rect x="914.5" y="233.5" width="6" height="6" fill="#A0BA69" stroke="#1a1a1a" stroke-width="1"/>
<text x="925.30" y="240.1" textLength="76.70" lengthAdjust="spacingAndGlyphs">Biblioteconomia</text>
<rect x="914.5" y="252.5" width="6" height="6" fill="#8972A5" stroke="#1a1a1a" stroke-width="1"/>
<text x="925.30" y="259.1" textLength="57.80" lengthAdjust="spacingAndGlyphs">Biomedicina</text>
<rect x="914.5" y="271.5" width="6" height="6" fill="#5EADC3" stroke="#1a1a1a" stroke-width="1"/>
<text x="925.30" y="278.1" textLength="95.20" lengthAdjust="spacingAndGlyphs">Ciências Ambientais</text>
<rect x="914.5" y="290.5" width="6" height="6" fill="#EB9B5A" stroke="#1a1a1a" stroke-width="1"/>
<text x="925.30" y="297.1" textLength="89.20" lengthAdjust="spacingAndGlyphs">Ciências Biológicas</text>
<rect x="914.5" y="309.5" width="6" height="6" fill="#506E92" stroke="#1a1a1a" stroke-width="1"/>
<text x="925.30" y="316.1" textLength="76.70" lengthAdjust="spacingAndGlyphs">Ciências Política</text>
<rect x="914.5" y="328.5" width="6" height="6" fill="#934E4D" stroke="#1a1a1a" stroke-width="1"/>
<text x="925.30" y="335.1" textLength="82.40" lengthAdjust="spacingAndGlyphs">Ciências Políticas</text>
<rect x="914.5" y="347.5" width="6" height="6" fill="#7D9154" stroke="#1a1a1a" stroke-width="1"/>
<text x="925.30" y="354.1" textLength="74.30" lengthAdjust="spacingAndGlyphs">Ciências Sociais</text>
<rect x="914.5" y="366.5" width="6" height="6" fill="#6C5B81" stroke="#1a1a1a" stroke-width="1"/>
<text x="925.30" y="373.1" textLength="32.40" lengthAdjust="spacingAndGlyphs">Direito</text>
<rect x="914.5" y="385.5" width="6" height="6" fill="#4C8797" stroke="#1a1a1a" stroke-width="1"/>
<text x="925.30" y="392.1" textLength="58.10" lengthAdjust="spacingAndGlyphs">Enfermagem</text>
<rect x="914.5" y="404.5" width="6" height="6" fill="#B67A49" stroke="#1a1a1a" stroke-width="1"/>
<text x="925.30" y="411.1" textLength="38.80" lengthAdjust="spacingAndGlyphs">Filosofia</text>
<rect x="914.5" y="423.5" width="6" height="6" fill="#B8C8DC" stroke="#1a1a1a" stroke-width="1"/>
<text x="925.30" y="430.1" textLength="36.90" lengthAdjust="spacingAndGlyphs">História</text>
<rect x="914.5" y="442.5" width="6" height="6" fill="#DDB8B7" stroke="#1a1a1a" stroke-width="1"/>
<text x="925.30" y="449.1" textLength="29.40" lengthAdjust="spacingAndGlyphs">Letras</text>
<rect x="914.5" y="461.5" width="6" height="6" fill="#D1DBBB" stroke="#1a1a1a" stroke-width="1"/>
<text x="925.30" y="468.1" textLength="57.00" lengthAdjust="spacingAndGlyphs">Matemática</text>
<rect x="914.5" y="480.5" width="6" height="6" fill="#C8BFD3" stroke="#1a1a1a" stroke-width="1"/>
<text x="925.30" y="487.1" textLength="42.90" lengthAdjust="spacingAndGlyphs">Medicina</text>
<rect x="914.5" y="499.5" width="6" height="6" fill="#6C92C3" stroke="#1a1a1a" stroke-width="1"/>
<text x="925.30" y="506.1" textLength="53.80" lengthAdjust="spacingAndGlyphs">Museologia</text>
<rect x="914.5" y="518.5" width="6" height="6" fill="#C46664" stroke="#1a1a1a" stroke-width="1"/>
<text x="925.30" y="525.1" textLength="32.80" lengthAdjust="spacingAndGlyphs">Música</text>
<rect x="914.5" y="537.5" width="6" height="6" fill="#A5BD72" stroke="#1a1a1a" stroke-width="1"/>
<text x="925.30" y="544.1" textLength="40.50" lengthAdjust="spacingAndGlyphs">Nutrição</text>
<rect x="914.5" y="556.5" width="6" height="6" fill="#8972A5" stroke="#1a1a1a" stroke-width="1"/>
<text x="925.30" y="563.1" textLength="47.90" lengthAdjust="spacingAndGlyphs">Pedagogia</text>
<rect x="914.5" y="575.5" width="6" height="6" fill="#5EADC3" stroke="#1a1a1a" stroke-width="1"/>
<text x="925.30" y="582.1" textLength="112.40" lengthAdjust="spacingAndGlyphs">Sistemas de Informação</text>
<rect x="914.5" y="594.5" width="6" height="6" fill="#EB9B5A" stroke="#1a1a1a" stroke-width="1"/>
<text x="925.30" y="601.1" textLength="37.50" lengthAdjust="spacingAndGlyphs">Turismo</text>
</g>
</svg>
</body></html>
